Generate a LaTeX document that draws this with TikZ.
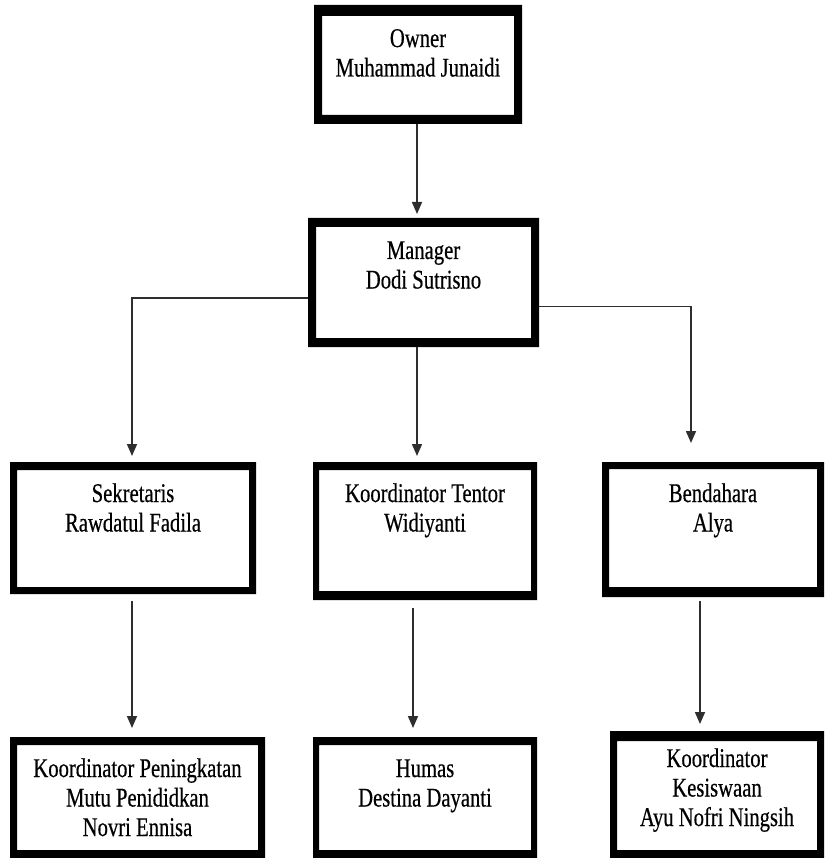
\documentclass[tikz,border=0pt]{standalone}
\usepackage{fontspec}
\setmainfont{Liberation Serif}
% narrow, tall serif face used for every label in the chart
\newfontfamily\orgface[FakeStretch=0.765,FakeBold=0.5]{Liberation Serif}
\usetikzlibrary{arrows.meta,calc}

% text block of a unit: width, height, gap above the first line, lines
\newcommand\orgtext[4]{%
  \parbox[c][#2pt][t]{#1pt}{\centering\orgface\fontsize{27}{29.5}\selectfont
    \vspace*{#3pt}\strut#4}}

% heavy black frame round a unit: node, side width, top width, bottom width
\newcommand\orgframe[4]{%
  \fill[framefill, even odd rule]
    ($(#1.north west)+(-#2,-#3)$) rectangle ($(#1.south east)+(#2,#4)$)
    (#1.north west) rectangle (#1.south east);}

\tikzset{
  orgbox/.style={inner sep=0pt, outer sep=0pt},
  framefill/.style={fill=black},
  link/.style={draw=black!82, line width=1.6pt},
  arr/.style={link, -{Triangle[length=12pt,width=10pt]}},
}

\begin{document}
\begin{tikzpicture}[x=1pt,y=-1pt]
\useasboundingbox (0,0) rectangle (824,858);

% units (inner white areas)
\node[orgbox] (owner)   at (418,65.5)   {\orgtext{192}{99}{10.35}{Owner\\Muhammad Junaidi}};
\node[orgbox] (manager) at (423.5,282.5){\orgtext{215}{111}{11.35}{Manager\\Dodi Sutrisno}};
\node[orgbox] (sek)     at (133,528.5)  {\orgtext{232}{117}{11.35}{Sekretaris\\Rawdatul Fadila}};
\node[orgbox] (kt)      at (425,530.5)  {\orgtext{212}{121}{11.35}{Koordinator Tentor\\Widiyanti}};
\node[orgbox] (bend)    at (713,528)    {\orgtext{208}{118}{12.35}{Bendahara\\Alya}};
\node[orgbox] (kpm)     at (137.5,797.5){\orgtext{241}{105}{11.35}{Koordinator Peningkatan\\Mutu Penididkan\\Novri Ennisa}};
\node[orgbox] (humas)   at (425,797.5)  {\orgtext{212}{105}{11.35}{Humas\\Destina Dayanti}};
\node[orgbox] (kk)      at (717,795.5)  {\orgtext{200}{109}{5.35}{Koordinator\\Kesiswaan\\Ayu Nofri Ningsih}};

% frames
\orgframe{owner}{8}{11}{9}
\orgframe{manager}{8}{9}{9}
\orgframe{sek}{7}{8}{7}
\orgframe{kt}{6}{8}{9}
\orgframe{bend}{7}{7}{10}
\orgframe{kpm}{7}{8}{8}
\orgframe{humas}{6}{8}{8}
\orgframe{kk}{7}{10}{8}

% connectors
\draw[arr] ($(owner.south)+(-1,9)$) -- ($(manager.north)+(-6.5,-13)$);
\draw[arr] ($(manager.west)+(-8,15.5)$) -| ($(sek.north)+(-1,-14)$);
\draw[arr] ($(manager.south)+(-6.5,9)$) -- ($(kt.north)+(-8,-14)$);
\draw[arr] ($(manager.east)+(8,24)$) -| ($(bend.north)+(-22,-26)$);
\draw[arr] ($(sek.south)+(-1,14)$) -- ($(kpm.north)+(-5.5,-17)$);
\draw[arr] ($(kt.south)+(-12,17)$) -- ($(humas.north)+(-12,-17)$);
\draw[arr] ($(bend.south)+(-13,14)$) -- ($(kk.north)+(-17,-17)$);
\end{tikzpicture}
\end{document}
